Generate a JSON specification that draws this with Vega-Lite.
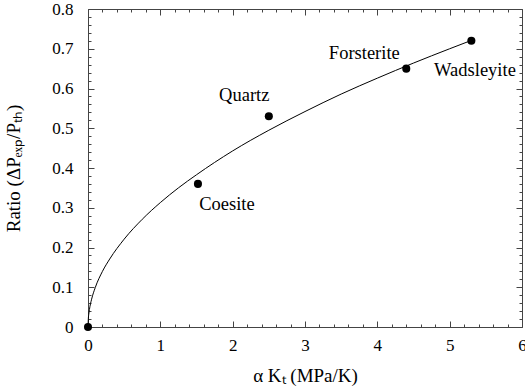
{
  "$schema": "https://vega.github.io/schema/vega-lite/v6.json",
  "width": 434,
  "height": 318,
  "autosize": {"type": "none"},
  "padding": {"left": 88, "top": 9, "right": 3, "bottom": 63},
  "background": "white",
  "config": {
    "view": {"stroke": null},
    "axis": {
      "grid": false,
      "labelFont": "Liberation Serif, Times New Roman, serif",
      "labelFontSize": 17,
      "labelColor": "black",
      "titleFont": "Liberation Serif, Times New Roman, serif",
      "titleFontSize": 19,
      "titleFontWeight": "normal",
      "titleColor": "black",
      "domainColor": "#444",
      "tickColor": "#444",
      "tickWidth": 1
    }
  },
  "datasets": {
    "curve": [
      {"x": 0, "y": 0}, {"x": 0.005, "y": 0.0221}, {"x": 0.01, "y": 0.0313}, {"x": 0.02, "y": 0.0443},
      {"x": 0.05, "y": 0.070}, {"x": 0.1, "y": 0.099}, {"x": 0.2, "y": 0.140}, {"x": 0.3, "y": 0.171},
      {"x": 0.5, "y": 0.221}, {"x": 0.75, "y": 0.271}, {"x": 1, "y": 0.313}, {"x": 1.25, "y": 0.350},
      {"x": 1.5, "y": 0.383}, {"x": 2, "y": 0.443}, {"x": 2.5, "y": 0.495}, {"x": 3, "y": 0.542},
      {"x": 3.5, "y": 0.586}, {"x": 4, "y": 0.626}, {"x": 4.5, "y": 0.664}, {"x": 5, "y": 0.700},
      {"x": 5.3, "y": 0.721}
    ],
    "points": [
      {"x": 0, "y": 0},
      {"x": 1.52, "y": 0.36},
      {"x": 2.5, "y": 0.53},
      {"x": 4.4, "y": 0.65},
      {"x": 5.3, "y": 0.72}
    ],
    "labels": [
      {"x": 1.92, "y": 0.309, "name": "Coesite", "grp": 1},
      {"x": 2.16, "y": 0.584, "name": "Quartz", "grp": 1},
      {"x": 3.82, "y": 0.689, "name": "Forsterite", "grp": 2},
      {"x": 5.35, "y": 0.647, "name": "Wadsleyite", "grp": 2}
    ]
  },
  "resolve": {"axis": {"x": "independent", "y": "independent"}},
  "layer": [
    {
      "data": {"name": "curve"},
      "mark": {"type": "line", "color": "black", "strokeWidth": 1, "interpolate": "monotone"},
      "encoding": {
        "x": {"field": "x", "type": "quantitative",
              "scale": {"domain": [0, 6], "nice": false, "zero": false},
              "axis": {"orient": "bottom", "values": [0, 1, 2, 3, 4, 5, 6], "tickSize": -6, "labelPadding": 16, "labelFlush": false, "labelOverlap": false,
                       "title": "α  Kₜ (MPa/K)", "titlePadding": 13}},
        "y": {"field": "y", "type": "quantitative",
              "scale": {"domain": [0, 0.8], "nice": false, "zero": false},
              "axis": {"orient": "left", "values": [0, 0.1, 0.2, 0.3, 0.4, 0.5, 0.6, 0.7, 0.8], "tickSize": -6, "labelPadding": 21, "labelFlush": false, "labelOverlap": false,
                       "format": "~g", "title": "Ratio (ΔPₑₓₚ/Pₜₕ)", "titlePadding": 28}}
      }
    },
    {
      "data": {"name": "points"},
      "mark": {"type": "point", "filled": true, "color": "black", "size": 65, "opacity": 1},
      "encoding": {
        "x": {"field": "x", "type": "quantitative",
              "axis": {"orient": "top", "values": [0, 1, 2, 3, 4, 5, 6], "tickSize": -6, "labels": false, "title": null}},
        "y": {"field": "y", "type": "quantitative",
              "axis": {"orient": "right", "values": [0, 0.1, 0.2, 0.3, 0.4, 0.5, 0.6, 0.7, 0.8], "tickSize": -6, "labels": false, "title": null}}
      }
    },
    {
      "data": {"name": "labels"},
      "transform": [{"filter": "datum.grp == 1"}],
      "mark": {"type": "text", "font": "Liberation Serif, Times New Roman, serif", "fontSize": 18.5, "color": "black", "align": "center", "baseline": "middle"},
      "encoding": {
        "x": {"field": "x", "type": "quantitative",
              "axis": {"orient": "bottom", "values": [0.2, 0.4, 0.6, 0.8, 1.2, 1.4, 1.6, 1.8, 2.2, 2.4, 2.6, 2.8, 3.2, 3.4, 3.6, 3.8, 4.2, 4.4, 4.6, 4.8, 5.2, 5.4, 5.6, 5.8], "tickSize": -3, "labels": false, "domain": false, "title": null}},
        "y": {"field": "y", "type": "quantitative",
              "axis": {"orient": "left", "values": [0.02, 0.04, 0.06, 0.08, 0.12, 0.14, 0.16, 0.18, 0.22, 0.24, 0.26, 0.28, 0.32, 0.34, 0.36, 0.38, 0.42, 0.44, 0.46, 0.48, 0.52, 0.54, 0.56, 0.58, 0.62, 0.64, 0.66, 0.68, 0.72, 0.74, 0.76, 0.78], "tickSize": -3, "labels": false, "domain": false, "title": null}},
        "text": {"field": "name"}
      }
    },
    {
      "data": {"name": "labels"},
      "transform": [{"filter": "datum.grp == 2"}],
      "mark": {"type": "text", "font": "Liberation Serif, Times New Roman, serif", "fontSize": 18.5, "color": "black", "align": "center", "baseline": "middle"},
      "encoding": {
        "x": {"field": "x", "type": "quantitative",
              "axis": {"orient": "top", "values": [0.2, 0.4, 0.6, 0.8, 1.2, 1.4, 1.6, 1.8, 2.2, 2.4, 2.6, 2.8, 3.2, 3.4, 3.6, 3.8, 4.2, 4.4, 4.6, 4.8, 5.2, 5.4, 5.6, 5.8], "tickSize": -3, "labels": false, "domain": false, "title": null}},
        "y": {"field": "y", "type": "quantitative",
              "axis": {"orient": "right", "values": [0.02, 0.04, 0.06, 0.08, 0.12, 0.14, 0.16, 0.18, 0.22, 0.24, 0.26, 0.28, 0.32, 0.34, 0.36, 0.38, 0.42, 0.44, 0.46, 0.48, 0.52, 0.54, 0.56, 0.58, 0.62, 0.64, 0.66, 0.68, 0.72, 0.74, 0.76, 0.78], "tickSize": -3, "labels": false, "domain": false, "title": null}},
        "text": {"field": "name"}
      }
    }
  ]
}
